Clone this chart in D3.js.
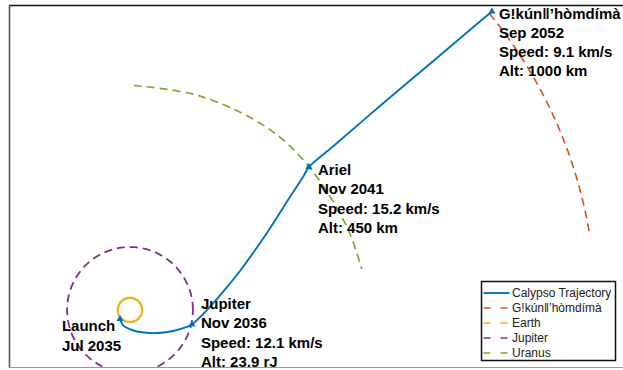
<!DOCTYPE html>
<html>
<head>
<meta charset="utf-8">
<script src="https://cdn.jsdelivr.net/npm/d3@7/dist/d3.min.js"></script>
<style>
  html, body { margin: 0; padding: 0; background: #fff; }
  svg { display: block; }
  text { font-family: "Liberation Sans", Arial, Helvetica, sans-serif; }
</style>
</head>
<body>
<svg id="chart" width="623" height="370"></svg>
<script>
// Heliocentric positions in AU (Sun at the origin)
const trajX = [-0.83, -0.58, 0.17, 0.83, 2.23, 3.55, 4.71, 5.12, 6.36, 8.02, 9.09, 11.32, 13.22, 14.30, 14.79, 16.78, 20.66, 25.37, 28.68, 29.92];
const trajY = [-0.75, -1.25, -1.66, -1.83, -1.91, -1.74, -1.41, -1.21, -0.01, 1.89, 3.22, 6.36, 9.33, 10.98, 11.81, 13.50, 16.85, 20.82, 23.63, 24.66];

// Encounters along the trajectory (index into the trajectory arrays)
const eventIndex = [0, 7, 14, 19];
const eventNames = ["Launch", "Jupiter", "Ariel", "Gǃkúnǁʼhòmdímà"];
const eventDates = ["Jul 2035", "Nov 2036", "Nov 2041", "Sep 2052"];
const eventSpeeds = [null, 12.1, 15.2, 9.1];            // km/s
const eventAlts = [null, "23.9 rJ", "450 km", "1000 km"];

// Orbits: radius (AU) and the arc drawn (degrees)
const earthOrbit = { r: 1.0, from: 0, to: 360 };
const jupiterOrbit = { r: 5.2, from: 0, to: 360 };
const gkunOrbit = { r: 38.5, from: 39.5, to: 9.4 };
// Uranus arc sampled as angle (deg) / radius (AU)
const uranusAngles = [89, 72, 53, 39, 21, 10];
const uranusRadii = [18.55, 18.6, 18.85, 18.95, 19.2, 19.45];

const seriesNames = ["Calypso Trajectory", "Gǃkúnǁʼhòmdímà", "Earth", "Jupiter", "Uranus"];
const seriesColors = ["#0072BD", "#D95319", "#EDB120", "#7E2F8E", "#77AC30"];

const svg = d3.select("#chart");
const box = { left: 9, top: 5, bottom: 368, right: 626 };

const x = d3.scaleLinear().domain([-10, 41]).range([box.left, box.right]);
const y = d3.scaleLinear().domain([-4.8, 25.2]).range([box.bottom, box.top]);

svg.append("defs").append("clipPath").attr("id", "plotClip")
  .append("rect").attr("x", box.left).attr("y", box.top)
  .attr("width", box.right - box.left).attr("height", box.bottom - box.top);

const plot = svg.append("g").attr("clip-path", "url(#plotClip)");
const line = d3.line().x(d => x(d[0])).y(d => y(d[1]));
const smooth = d3.line().x(d => x(d[0])).y(d => y(d[1])).curve(d3.curveCatmullRom);

function arcPoints(o) {
  const n = 180, pts = [];
  for (let i = 0; i <= n; i++) {
    const a = (o.from + (o.to - o.from) * i / n) * Math.PI / 180;
    pts.push([o.r * Math.cos(a), o.r * Math.sin(a)]);
  }
  return pts;
}

// Gǃkúnǁʼhòmdímà orbit
plot.append("path").attr("d", line(arcPoints(gkunOrbit)))
  .attr("fill", "none").attr("stroke", seriesColors[1])
  .attr("stroke-width", 1.6).attr("stroke-dasharray", "8,5");

// Earth orbit
plot.append("path").attr("d", line(arcPoints(earthOrbit)))
  .attr("fill", "none").attr("stroke", seriesColors[2])
  .attr("stroke-width", 2.4);

// Jupiter orbit
plot.append("path").attr("d", line(arcPoints(jupiterOrbit)))
  .attr("fill", "none").attr("stroke", seriesColors[3])
  .attr("stroke-width", 1.8).attr("stroke-dasharray", "8,5");

// Uranus orbit arc
const uranusPts = uranusAngles.map((a, i) => {
  const t = a * Math.PI / 180;
  return [uranusRadii[i] * Math.cos(t), uranusRadii[i] * Math.sin(t)];
});
plot.append("path").attr("d", smooth(uranusPts))
  .attr("fill", "none").attr("stroke", seriesColors[4])
  .attr("stroke-width", 1.7).attr("stroke-dasharray", "8,5");

// Spacecraft trajectory
const traj = trajX.map((v, i) => [v, trajY[i]]);
plot.append("path").attr("d", smooth(traj))
  .attr("fill", "none").attr("stroke", seriesColors[0]).attr("stroke-width", 1.9);

// Encounter markers
const tri = d3.symbol().type(d3.symbolTriangle).size(22);
plot.selectAll("path.marker").data(eventIndex).join("path")
  .attr("class", "marker")
  .attr("d", tri)
  .attr("transform", i => `translate(${x(trajX[i])},${y(trajY[i])})`)
  .attr("fill", seriesColors[0]);

// Encounter labels
const labelOffsets = [[-58, 12.5], [9, -15.5], [9, 8], [7, 7]];
const lineGap = 19.3;
eventIndex.forEach((idx, k) => {
  const lines = [eventNames[k], eventDates[k]];
  if (eventSpeeds[k] != null) lines.push(`Speed: ${eventSpeeds[k]} km/s`);
  if (eventAlts[k] != null) lines.push(`Alt: ${eventAlts[k]}`);
  const lx = x(trajX[idx]) + labelOffsets[k][0];
  const t = svg.append("text")
    .attr("x", lx)
    .attr("y", y(trajY[idx]) + labelOffsets[k][1])
    .attr("font-size", 15).attr("font-weight", "bold").attr("fill", "#000");
  lines.forEach((s, j) => {
    t.append("tspan").attr("x", lx).attr("dy", j === 0 ? 0 : lineGap).text(s);
  });
});

// Axes box
svg.append("line").attr("x1", box.left).attr("x2", box.right).attr("y1", box.top + 0.5).attr("y2", box.top + 0.5)
  .attr("stroke", "#111").attr("stroke-width", 1.3);
svg.append("line").attr("x1", box.left + 0.5).attr("x2", box.left + 0.5).attr("y1", box.top).attr("y2", box.bottom)
  .attr("stroke", "#555").attr("stroke-width", 1.6);
svg.append("line").attr("x1", box.left).attr("x2", box.right).attr("y1", box.bottom - 0.5).attr("y2", box.bottom - 0.5)
  .attr("stroke", "#999").attr("stroke-width", 1.2);

// Legend
const lg = svg.append("g").attr("transform", "translate(481.5,281.5)");
lg.append("rect").attr("width", 134).attr("height", 79)
  .attr("fill", "#fff").attr("stroke", "#111").attr("stroke-width", 1.5);
seriesNames.forEach((name, i) => {
  const cy = 11.5 + i * 15;
  lg.append("line").attr("x1", 2).attr("x2", 28).attr("y1", cy).attr("y2", cy)
    .attr("stroke", seriesColors[i]).attr("stroke-width", i === 0 ? 1.9 : 1.6)
    .attr("stroke-dasharray", i === 0 ? null : "7,10");
  lg.append("text").attr("x", 30.5).attr("y", cy).attr("dy", "0.36em")
    .attr("font-size", 12).attr("fill", "#222").text(name);
});
</script>
</body>
</html>
